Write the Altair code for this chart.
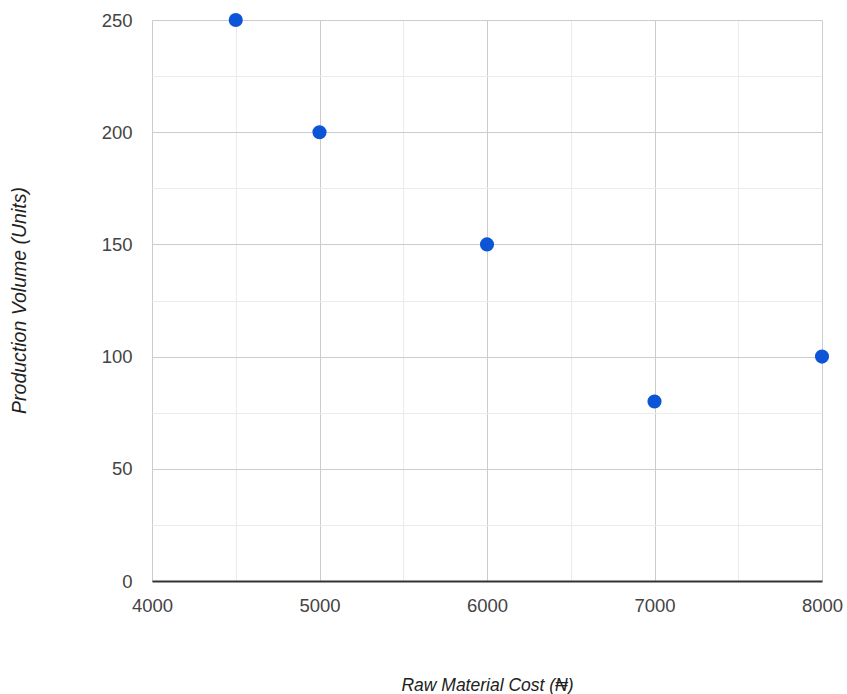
import altair as alt
import pandas as pd

cost = [4500, 5000, 6000, 7000, 8000]
volume = [250, 200, 150, 80, 100]

x_ticks = [4000, 4500, 5000, 5500, 6000, 6500, 7000, 7500, 8000]
y_ticks = [0, 25, 50, 75, 100, 125, 150, 175, 200, 225, 250]

df = pd.DataFrame({"cost": cost, "volume": volume})

FONT = "Liberation Sans, Arial"

chart = alt.Chart(df).mark_circle(size=200, opacity=1, color="#0c55d6").encode(
    x=alt.X(
        "cost:Q",
        scale=alt.Scale(domain=[4000, 8000], nice=False, zero=False),
        axis=alt.Axis(
            values=x_ticks,
            format="d",
            labelExpr="datum.value % 1000 === 0 ? datum.label : ''",
            ticks=False,
            labelFlush=False,
            labelOverlap=False,
            labelPadding=15,
            labelFontSize=18.5,
            labelColor="#444444",
            labelFont=FONT,
            domainColor="#333333",
            domainWidth=2,
            gridColor={"condition": {"test": "datum.value % 1000 === 0", "value": "#cccccc"}, "value": "#ebebeb"},
            title="Raw Material Cost (₦)",
            titleFont=FONT,
            titleFontSize=17.5,
            titleFontStyle="italic",
            titleFontWeight="normal",
            titleColor="#222222",
            titleBaseline="alphabetic",
            titleY=109,
        ),
    ),
    y=alt.Y(
        "volume:Q",
        scale=alt.Scale(domain=[0, 250], nice=False),
        axis=alt.Axis(
            values=y_ticks,
            format="d",
            labelExpr="datum.value % 50 === 0 ? datum.label : ''",
            ticks=False,
            domain=False,
            labelFlush=False,
            labelOverlap=False,
            labelPadding=20,
            labelFontSize=18.5,
            labelColor="#444444",
            labelFont=FONT,
            gridColor={"condition": {"test": "datum.value % 50 === 0", "value": "#cccccc"}, "value": "#ebebeb"},
            title="Production Volume (Units)",
            titleFont=FONT,
            titleFontSize=19.5,
            titleFontStyle="italic",
            titleFontWeight="normal",
            titleColor="#222222",
            titleBaseline="alphabetic",
            titleAngle=270,
            titleX=-127,
            titleY=280,
        ),
    ),
).properties(
    width=670,
    height=561,
    autosize=alt.AutoSizeParams(type="none"),
    padding={"left": 152, "top": 20, "right": 25, "bottom": 113},
).configure_view(stroke=None).configure(background="white")

chart.save("out.html", embed_options={"renderer": "svg", "actions": False})
